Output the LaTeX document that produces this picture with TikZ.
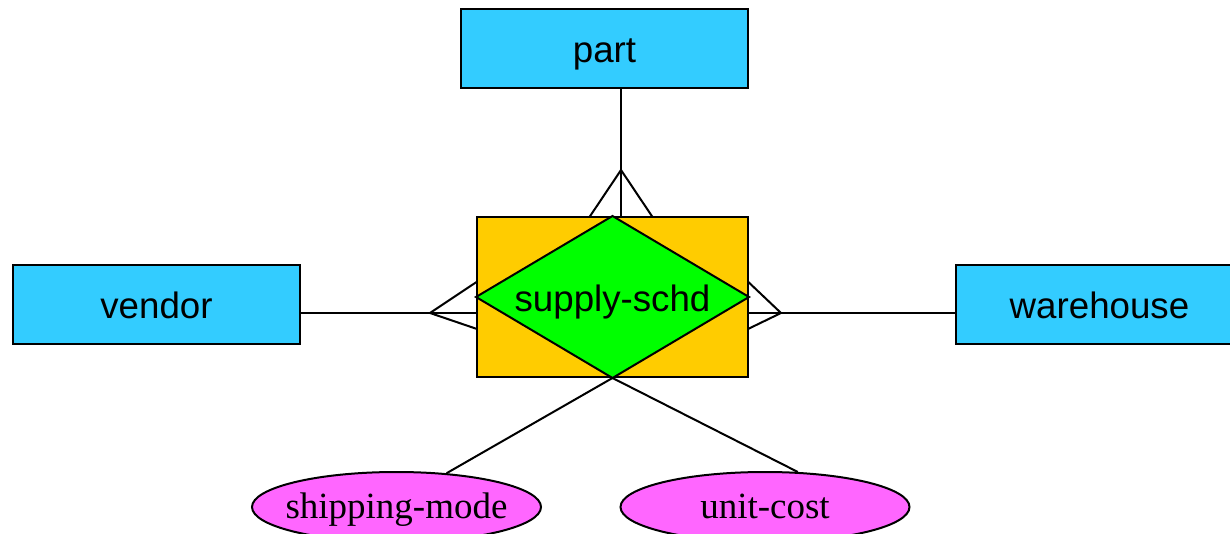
\documentclass[tikz,border=0pt]{standalone}
\usepackage{fontspec}
\setmainfont{Liberation Serif}
\setsansfont{Liberation Sans}
\usetikzlibrary{shapes.geometric}
\definecolor{entcol}{RGB}{51,204,255}
\definecolor{relboxcol}{RGB}{255,204,0}
\definecolor{relcol}{RGB}{0,255,0}
\definecolor{attcol}{RGB}{255,102,255}
\begin{document}
\begin{tikzpicture}[x=1pt,y=-1pt,line width=2pt,
  entity/.style={draw,fill=entcol,minimum width=287pt,minimum height=79pt,inner sep=0pt,
    text height=28pt,text depth=0pt,font=\sffamily\fontsize{36.7}{40}\selectfont},
  assocbox/.style={draw,fill=relboxcol,minimum width=271pt,minimum height=160pt,inner sep=0pt},
  assoclabel/.style={inner sep=0pt,text height=28pt,text depth=0pt,
    font=\sffamily\fontsize{36.7}{40}\selectfont},
  attr/.style={draw,fill=attcol,ellipse,minimum width=289pt,minimum height=70pt,
    inner xsep=-20pt,inner ysep=0pt,text height=22pt,text depth=0pt,
    font=\fontsize{37}{40}\selectfont},
  link/.style={draw,line width=2pt}]
\useasboundingbox (0,0) rectangle (1230,534);
\clip (0,0) rectangle (1230,534);
% entities
\node[entity] (part) at (604.5,48.5) {part};
\node[entity] (vendor) at (156.5,304.5) {vendor};
\node[entity] (wh) at (1099.5,304.5) {warehouse};
% association
\node[assocbox] (rel) at (612.5,297) {};
\draw[fill=relcol] (rel.north) -- (rel.east) -- (rel.south) -- (rel.west) -- cycle;
\node[assoclabel] (rlabel) at (rel.center) {supply-schd};
% part crow's foot
\coordinate (pa) at (621,170);
\coordinate (pl) at (589.5,217);
\coordinate (pr) at (652.5,217);
\draw[link] (part.south -| pa) -- (rel.north -| pa);
\draw[link] (pl) -- (pa) -- (pr);
% vendor crow's foot
\coordinate (va) at (430,313);
\coordinate (vl1) at (477,281.7);
\coordinate (vl2) at (477,329);
\draw[link] (vendor.east |- va) -- (rel.west |- va);
\draw[link] (vl1) -- (va) -- (vl2);
% warehouse crow's foot
\coordinate (wa) at (781,313);
\coordinate (wl1) at (748,281.7);
\coordinate (wl2) at (748,329);
\draw[link] (wh.west |- wa) -- (rel.east |- wa);
\draw[link] (wl1) -- (wa) -- (wl2);
% attributes
\node[attr] (sm) at (396.5,507) {shipping-mode};
\node[attr] (uc) at (765,507) {unit-cost};
\draw[link] (rel.south) -- (sm.34);
\draw[link] (rel.south) -- (uc.47);
\end{tikzpicture}
\end{document}
